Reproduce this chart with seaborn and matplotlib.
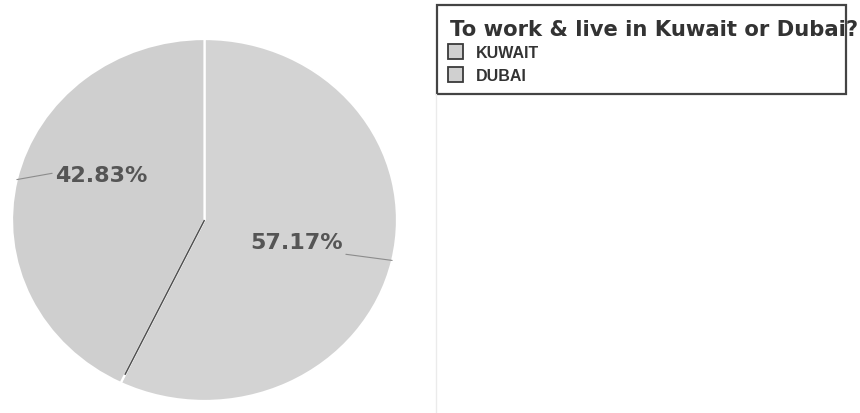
import numpy as np
import matplotlib
matplotlib.use("Agg")
import matplotlib.pyplot as plt
from matplotlib.patches import Patch, Rectangle
from matplotlib.lines import Line2D
import seaborn as sns

# Survey answers
categories = ["KUWAIT", "DUBAI"]
shares = [57.17, 42.83]
title = "To work & live in Kuwait or Dubai?"

sns.set_theme(style="white")
plt.rcParams["font.family"] = ["DejaVu Sans"]

slice_colors = ["#d3d3d3", "#cfcfcf"]
text_color = "#555555"

fig = plt.figure(figsize=(8.6, 4.14), dpi=100)
W, H = 860, 414

# Pie axes, placed in pixel terms (the pie is slightly wider than tall)
ax = fig.add_axes([12 / W, 12 / H, 385 / W, 362 / H])
wedges, _ = ax.pie(
    shares,
    colors=slice_colors,
    startangle=90,
    counterclock=False,
    wedgeprops=dict(edgecolor="white", linewidth=1.6),
)
ax.set_aspect("auto")
ax.set_xlim(-1, 1)
ax.set_ylim(-1, 1)
ax.axis("off")

# dark divider on the boundary between the two slices
boundary = np.deg2rad(wedges[0].theta1)
ax.add_line(Line2D([0, 0.95 * np.cos(boundary)], [0, 0.95 * np.sin(boundary)],
                   color="#505050", lw=1.1, solid_capstyle="butt"))

# percentage labels with leader lines to the slice edges
offsets = [(-69, 13), (61, 3.5)]
relpos = [(0.96, -0.05), (0.0, 0.6)]
for w, v, off, rp in zip(wedges, shares, offsets, relpos):
    mid = np.deg2rad((w.theta1 + w.theta2) / 2)
    ax.annotate(
        f"{v:.2f}%",
        xy=(np.cos(mid), np.sin(mid)),
        xytext=off,
        textcoords="offset points",
        ha="center", va="center",
        fontsize=16, fontweight="bold", color=text_color,
        arrowprops=dict(arrowstyle="-", color="#8c8c8c", lw=0.8,
                        shrinkA=0, shrinkB=0, relpos=rp),
        annotation_clip=False,
    )

# legend panel: frame, title and entries
fig.add_artist(Rectangle((437 / W, 1 - 95 / H), 409 / W, 89 / H,
                         transform=fig.transFigure, fill=False,
                         edgecolor="#444444", lw=1.6))
fig.text(450 / W, 1 - 36.5 / H, title, fontsize=15.2, fontweight="bold",
         color="#333333", ha="left", va="baseline")
handles = [Patch(facecolor=c, edgecolor="#3a3a3a", lw=1.3) for c in ["#d0d0d0", "#d0d0d0"]]
fig.legend(
    handles, categories,
    loc="upper left", bbox_to_anchor=(448 / W, 1 - 45 / H),
    frameon=False, borderpad=0, borderaxespad=0,
    handlelength=0.95, handleheight=1.1, handletextpad=0.8,
    labelspacing=0.42,
    prop=dict(family="Liberation Sans", weight="bold", size=11.5),
    labelcolor="#333333",
)

# faint separator below the legend
fig.add_artist(Line2D([436 / W, 436 / W], [0, 1 - 95 / H],
                      transform=fig.transFigure, color="#ebebeb", lw=1))

fig.savefig("out.png", dpi=100, facecolor="white")
